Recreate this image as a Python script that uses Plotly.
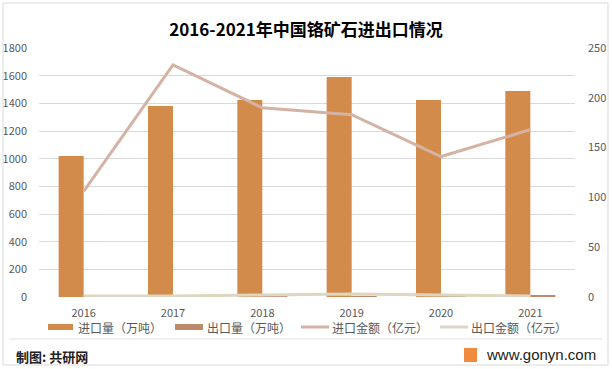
import plotly.graph_objects as go

years = ["2016", "2017", "2018", "2019", "2020", "2021"]
import_qty = [1020, 1380, 1424, 1590, 1424, 1489]      # 万吨
export_qty = [1, 1, 2, 2, 1, 12]                      # 万吨
import_val = [106, 233, 190, 183, 141, 168]            # 亿元
export_val = [1, 1, 2, 3, 2, 1]                        # 亿元

left_ticks = list(range(0, 1801, 200))
right_ticks = list(range(0, 251, 50))

series_names = ["进口量（万吨）", "出口量（万吨）", "进口金额（亿元）", "出口金额（亿元）"]
series_colors = ["#D38B4C", "#BA8A6B", "#D4B3A5", "#DDD6C3"]

FONT = "Noto Sans CJK SC, Microsoft YaHei, sans-serif"
W, H = 612, 369
L, R, T, B = 39, 37, 48, 72
PW, PH = W - L - R, H - T - B


def px(x):
    return (x - L) / PW


def py(y):
    return (H - B - y) / PH


fig = go.Figure()
fig.add_trace(go.Bar(x=years, y=import_qty, name=series_names[0],
                     marker=dict(color=series_colors[0], line=dict(width=0))))
fig.add_trace(go.Bar(x=years, y=export_qty, name=series_names[1],
                     marker=dict(color=series_colors[1], line=dict(width=0))))
fig.add_trace(go.Scatter(x=years, y=import_val, name=series_names[2], yaxis="y2",
                         mode="lines", line=dict(color=series_colors[2], width=3)))
fig.add_trace(go.Scatter(x=years, y=export_val, name=series_names[3], yaxis="y2",
                         mode="lines", line=dict(color=series_colors[3], width=3)))

shapes = [
    dict(type="rect", xref="paper", yref="paper", x0=px(3), x1=px(608),
         y0=py(365), y1=py(3), line=dict(color="#D9D9D9", width=1)),
    dict(type="line", xref="paper", yref="paper", x0=px(9), x1=px(602),
         y0=py(339), y1=py(339), line=dict(color="#E3E3E3", width=1)),
    dict(type="rect", xref="paper", yref="paper", x0=px(464), x1=px(477),
         y0=py(362), y1=py(348), fillcolor="#F08A3C", line=dict(width=0)),
]
annotations = [
    dict(text="<b>制图: 共研网</b>", xref="paper", yref="paper", x=px(14), y=py(356),
         xanchor="left", yanchor="middle", showarrow=False,
         font=dict(family=FONT, size=13, color="#222222")),
    dict(text="www.gonyn.com", xref="paper", yref="paper", x=px(598), y=py(354),
         xanchor="right", yanchor="middle", showarrow=False,
         font=dict(family="Liberation Sans, Arial, sans-serif", size=15, color="#222222")),
]

# manual legend
leg_y = 327
leg_items = [(48, 73, 76, "bar"), (175, 203, 205, "bar"), (301, 329, 330, "line"), (440, 468, 469, "line")]
for (x0, x1, tx, kind), name, col in zip(leg_items, series_names, series_colors):
    if kind == "bar":
        shapes.append(dict(type="rect", xref="paper", yref="paper", x0=px(x0), x1=px(x1),
                           y0=py(leg_y + 3), y1=py(leg_y - 3), fillcolor=col, line=dict(width=0)))
    else:
        shapes.append(dict(type="line", xref="paper", yref="paper", x0=px(x0), x1=px(x1),
                           y0=py(leg_y), y1=py(leg_y), line=dict(color=col, width=3)))
    annotations.append(dict(text=name, xref="paper", yref="paper", x=px(tx), y=py(leg_y),
                            xanchor="left", yanchor="middle", showarrow=False,
                            font=dict(family=FONT, size=12, color="#595959")))

fig.update_layout(
    width=W, height=H,
    margin=dict(l=L, r=R, t=T, b=B, autoexpand=False),
    paper_bgcolor="white", plot_bgcolor="white",
    font=dict(family=FONT, size=11, color="#595959"),
    title=dict(text="<b>2016-2021年中国铬矿石进出口情况</b>", x=0.5, xanchor="center",
               y=1 - 30 / H, yanchor="middle", yref="container",
               font=dict(family=FONT, size=17, color="#000000")),
    barmode="group", bargap=0.44, bargroupgap=0,
    showlegend=False,
    xaxis=dict(type="category", showgrid=False, showline=False, ticks="", automargin=False,
               tickfont=dict(size=11, color="#595959"), ticklabelstandoff=8),
    yaxis=dict(range=[0, 1800], tickvals=left_ticks, showgrid=True, automargin=False,
               gridcolor="#D9D9D9", gridwidth=1, zeroline=False, showline=False,
               tickfont=dict(size=11, color="#595959"), ticklabelstandoff=11),
    yaxis2=dict(range=[0, 250], tickvals=right_ticks, overlaying="y", side="right",
                showgrid=False, zeroline=False, showline=False, automargin=False,
                tickfont=dict(size=11, color="#595959"), ticklabelstandoff=12),
    shapes=shapes,
    annotations=annotations,
)

fig.write_html("out.html", config={"displayModeBar": False},
               post_script="document.body.style.margin='0';document.body.style.padding='0';")
